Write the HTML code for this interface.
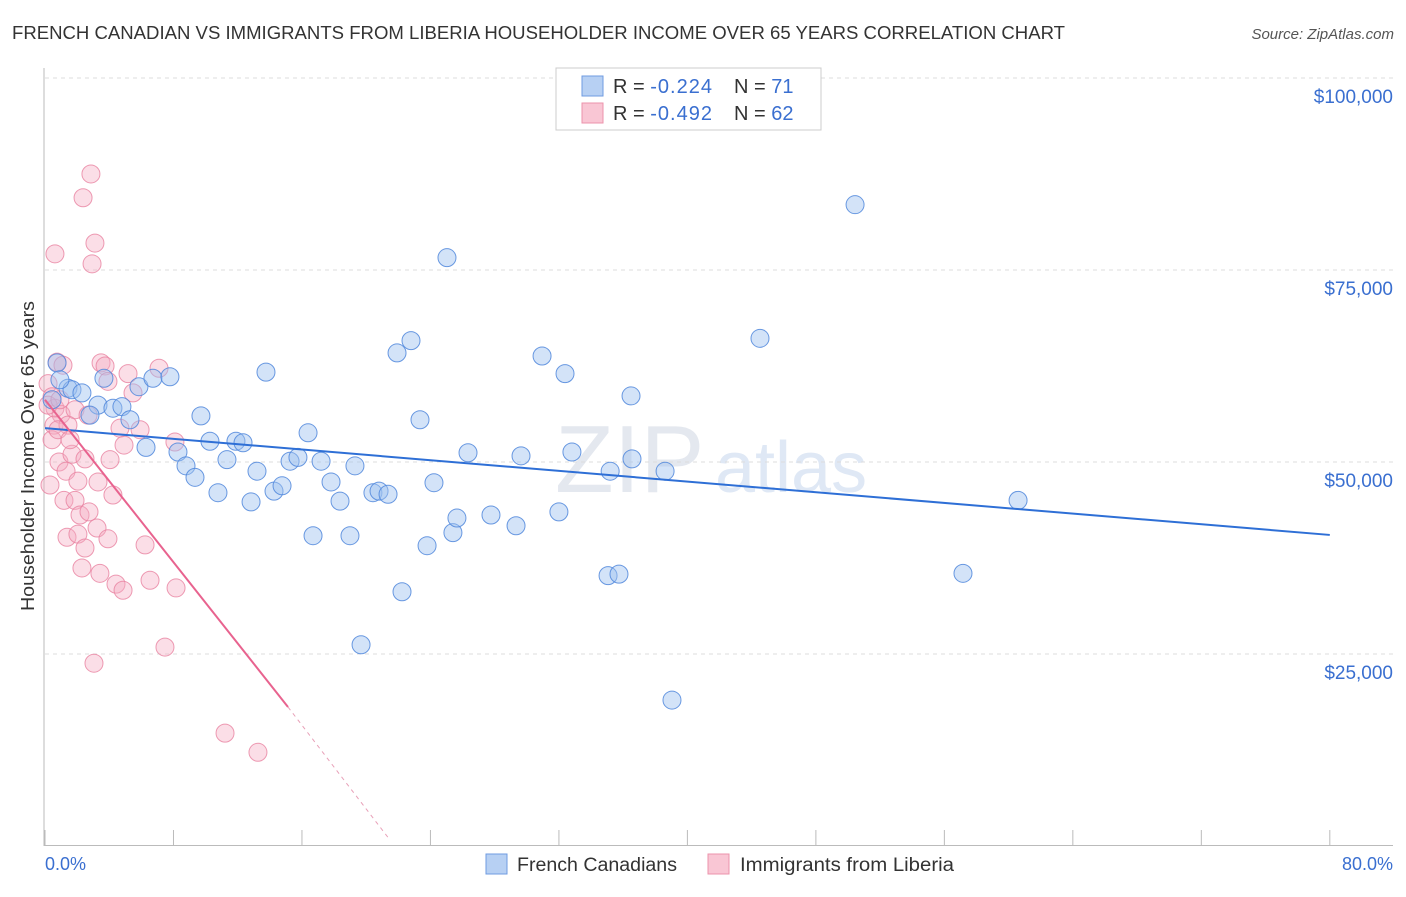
<!DOCTYPE html>
<html><head><meta charset="utf-8"><style>
body{margin:0;background:#fff;font-family:"Liberation Sans",sans-serif;}
svg text{font-family:"Liberation Sans",sans-serif;}
</style></head><body>
<svg id="chart" width="1406" height="892" xmlns="http://www.w3.org/2000/svg">
<text x="12" y="39" font-size="18" fill="#333" textLength="1053" lengthAdjust="spacingAndGlyphs">FRENCH CANADIAN VS IMMIGRANTS FROM LIBERIA HOUSEHOLDER INCOME OVER 65 YEARS CORRELATION CHART</text>
<text x="1394" y="39" font-size="15" fill="#555" font-style="italic" text-anchor="end">Source: ZipAtlas.com</text>
<text x="555" y="492" font-size="96" fill="#e4e8ef" font-family="Liberation Serif">ZIP</text>
<text x="715" y="492" font-size="72" fill="#dfe8f5">atlas</text>
<text transform="translate(34,456) rotate(-90)" font-size="18" fill="#333" text-anchor="middle" textLength="310" lengthAdjust="spacingAndGlyphs">Householder Income Over 65 years</text>
<g id="grid"></g>
<g id="axes"></g>
<g id="pts"></g>
<g id="trend"></g>
<g>
<rect x="556" y="68" width="265" height="62" fill="#fff" stroke="#ccc"/>
<rect x="582" y="76" width="21" height="20" fill="#b7d0f3" stroke="#6f9be0"/>
<rect x="582" y="103" width="21" height="20" fill="#f9c6d4" stroke="#ec93ab"/>
<text x="613" y="93" font-size="20" fill="#333">R = <tspan fill="#3a6fd0" letter-spacing="1">-0.224</tspan></text>
<text x="734" y="93" font-size="20" fill="#333">N = <tspan fill="#3a6fd0"> 71</tspan></text>
<text x="613" y="120" font-size="20" fill="#333">R = <tspan fill="#3a6fd0" letter-spacing="1">-0.492</tspan></text>
<text x="734" y="120" font-size="20" fill="#333">N = <tspan fill="#3a6fd0">62</tspan></text>
</g>
<g>
<rect x="486" y="854" width="21" height="20" fill="#b7d0f3" stroke="#6f9be0"/>
<text x="517" y="871" font-size="19" fill="#333" textLength="160" lengthAdjust="spacingAndGlyphs">French Canadians</text>
<rect x="708" y="854" width="21" height="20" fill="#f9c6d4" stroke="#ec93ab"/>
<text x="740" y="871" font-size="19" fill="#333" textLength="214" lengthAdjust="spacingAndGlyphs">Immigrants from Liberia</text>
</g>
</svg>
<script>
const yTicks=[25000,50000,75000,100000];
const yTickLabels=["$25,000","$50,000","$75,000","$100,000"];
const xTickLabels=["0.0%","80.0%"];
const blueX=[0.75,1.43,1.68,2.30,3.30,3.67,4.23,4.79,5.29,2.80,5.85,6.29,6.72,7.78,8.28,8.78,9.34,9.71,10.27,10.77,11.33,11.89,12.33,12.83,13.20,13.76,14.26,14.76,15.26,15.75,16.38,16.69,17.19,17.81,18.37,18.99,19.30,19.68,20.42,20.80,21.36,21.92,22.23,22.79,23.35,23.79,24.22,25.03,25.40,25.65,26.34,27.77,29.33,29.64,30.95,32.00,32.38,32.81,35.06,35.19,35.74,36.49,36.55,38.61,39.04,44.52,50.44,57.16,60.59,0.44,0.93];
const blueY=[62.9,59.6,59.4,59.0,57.4,60.9,57.0,57.2,55.5,56.1,59.8,51.9,60.9,61.1,51.3,49.5,48.0,56.0,52.7,46.0,50.3,52.7,52.5,44.8,48.8,61.7,46.2,46.9,50.1,50.6,53.8,40.4,50.1,47.4,44.9,40.4,49.5,26.2,46.0,46.2,45.8,64.2,33.1,65.8,55.5,39.1,47.3,76.6,40.8,42.7,51.2,43.1,41.7,50.8,63.8,43.5,61.5,51.3,35.2,48.8,35.4,58.6,50.4,48.8,19.0,66.1,83.5,35.5,45.0,58.1,60.7];
const pinkX=[0.62,2.86,2.37,3.11,2.93,0.75,1.12,0.19,0.44,0.62,1.00,1.87,2.68,3.49,3.74,3.92,5.17,7.10,5.48,0.56,1.43,4.67,4.92,8.09,0.87,1.68,2.49,1.31,2.05,3.30,4.23,0.31,1.18,1.87,2.18,2.74,3.24,1.37,2.05,3.92,2.49,6.23,2.30,3.42,4.42,4.86,6.54,8.16,7.47,3.05,11.21,13.26,0.44,0.81,0.19,1.56,0.93,5.92,4.05];
const pinkY=[77.1,87.5,84.4,78.5,75.8,63.0,62.6,60.2,58.5,57.0,56.2,56.8,56.1,62.9,62.5,60.5,61.5,62.2,59.0,54.8,54.8,54.4,52.2,52.6,50.0,51.0,50.4,48.8,47.5,47.4,45.7,47.0,45.0,45.0,43.1,43.5,41.4,40.2,40.6,40.0,38.8,39.2,36.2,35.5,34.1,33.3,34.6,33.6,25.9,23.8,14.7,12.2,52.9,54.2,57.4,52.9,58.1,54.2,50.3];
const blueTrend=[54.4,40.5];
const pinkTrend=[58.1,18.1,1.0];
const pinkTrendX=[0,15.13,21.4];

const NS="http://www.w3.org/2000/svg";
const X=p=>45+p*16.06;
const Y=v=>846-v/130.2;
function mk(t,attrs,parent){const e=document.createElementNS(NS,t);for(const k in attrs)e.setAttribute(k,attrs[k]);parent.appendChild(e);return e;}
const grid=document.getElementById('grid');
yTicks.forEach((v,i)=>{
  const l=mk('line',{x1:45,x2:1393,y1:Y(v),y2:Y(v),stroke:'#ddd','stroke-dasharray':'4,4'},grid);
  
  
  const t=mk('text',{x:1393,y:Y(v)+25,'font-size':19,fill:'#3a6fd0','text-anchor':'end'},grid);
  t.textContent=yTickLabels[i];
  
  
});
const ax=document.getElementById('axes');
mk('line',{x1:44,x2:44,y1:68,y2:846,stroke:'#bbb'},ax);
mk('line',{x1:44,x2:1393,y1:845.5,y2:845.5,stroke:'#bbb'},ax);
for(let i=0;i<=10;i++){mk('line',{x1:X(i*8),x2:X(i*8),y1:830,y2:846,stroke:'#bbb'},ax);}
const x0=mk('text',{x:45,y:870,'font-size':18,fill:'#3a6fd0'},ax);x0.textContent=xTickLabels[0];


const x1=mk('text',{x:1393,y:870,'font-size':18,fill:'#3a6fd0','text-anchor':'end'},ax);x1.textContent=xTickLabels[1];


const pts=document.getElementById('pts');
pinkX.forEach((x,i)=>{const c=mk('circle',{cx:X(x),cy:Y(pinkY[i]*1000),r:9,fill:'rgba(246,172,194,0.4)',stroke:'rgba(232,130,160,0.8)','stroke-width':1},pts);

});
blueX.forEach((x,i)=>{const c=mk('circle',{cx:X(x),cy:Y(blueY[i]*1000),r:9,fill:'rgba(158,194,240,0.45)',stroke:'rgba(80,135,220,0.85)','stroke-width':1},pts);

});
const tr=document.getElementById('trend');
const b=mk('line',{x1:X(0),y1:Y(blueTrend[0]*1000),x2:X(80),y2:Y(blueTrend[1]*1000),stroke:'#2e6fd6','stroke-width':2},tr);


const p=mk('line',{x1:X(pinkTrendX[0]),y1:Y(pinkTrend[0]*1000),x2:X(pinkTrendX[1]),y2:Y(pinkTrend[1]*1000),stroke:'#e8638f','stroke-width':2},tr);


const pd=mk('line',{x1:X(pinkTrendX[1]),y1:Y(pinkTrend[1]*1000),x2:X(pinkTrendX[2]),y2:Y(pinkTrend[2]*1000),stroke:'#e8a0b8','stroke-width':1,'stroke-dasharray':'4,4'},tr);


</script>
</body></html>
